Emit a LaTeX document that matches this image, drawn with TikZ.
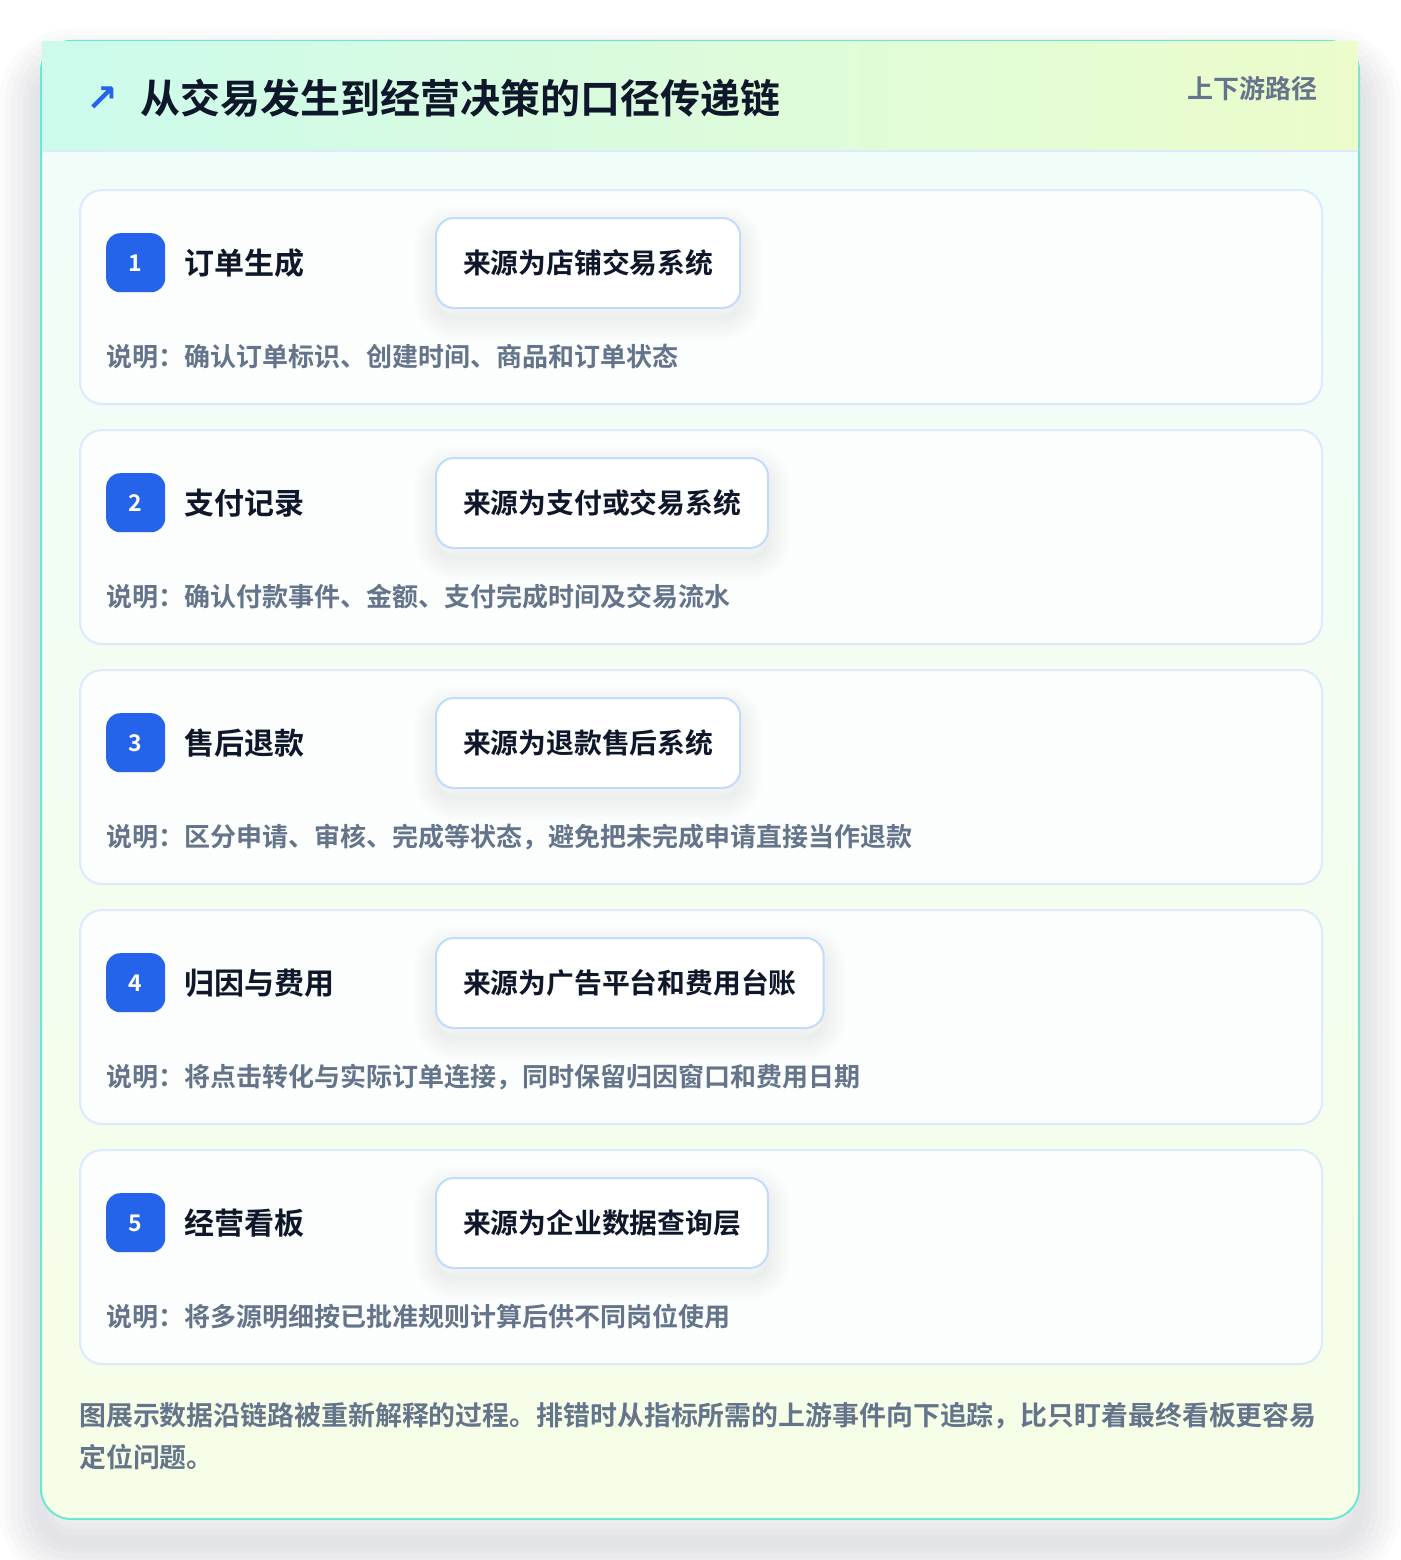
\documentclass[tikz,border=0pt]{standalone}
\usepackage{fontspec}
\setmainfont{Noto Sans CJK SC}[BoldFont={Noto Sans CJK SC Bold}]
\newfontfamily\arrowfont{DejaVu Sans}
\definecolor{hdrL}{HTML}{CCFBEC}
\definecolor{hdrR}{HTML}{ECFCCB}
\definecolor{bodyT}{HTML}{F0FDF9}
\definecolor{bodyB}{HTML}{F7FEE7}
\definecolor{tealB}{HTML}{6EE7D2}
\definecolor{sepB}{HTML}{DBEAFE}
\definecolor{cardB}{HTML}{DBEAFE}
\definecolor{cardF}{HTML}{FCFEFD}
\definecolor{srcB}{HTML}{BFDBFE}
\definecolor{badgeC}{HTML}{2563EB}
\definecolor{darkC}{HTML}{0F172A}
\definecolor{slateC}{HTML}{64748B}
\definecolor{shadowC}{HTML}{1E293B}
\begin{document}
\begin{tikzpicture}[x=1pt,y=-1pt,
  shadowring/.style={preaction={draw=shadowC, draw opacity=0.009, line width=#1, fill=none,
    transform canvas={yshift=-10pt}}},
  card/.style={draw=cardB, line width=2pt, fill=cardF,
    rounded corners=22pt, minimum width=1242pt, minimum height=214pt, inner sep=0pt},
  badge/.style={fill=badgeC, rounded corners=14pt, minimum size=59pt, inner sep=0pt, text=white,
    font=\bfseries\fontsize{23}{23}\selectfont, text height=16.8pt, text depth=0pt},
  steptitle/.style={inner sep=0pt, text=darkC, font=\bfseries\fontsize{30}{30}\selectfont},
  srcbox/.style={shadowring=44pt, shadowring=38pt, shadowring=32pt, shadowring=26pt, shadowring=20pt,
    shadowring=14pt, shadowring=8pt, shadowring=3pt,
    draw=srcB, line width=2pt, fill=white, rounded corners=18pt, minimum height=90pt,
    inner xsep=27pt, inner ysep=0pt, text=darkC, font=\bfseries\fontsize{27.8}{27.8}\selectfont,
    text height=24.5pt, text depth=3.3pt},
  desc/.style={inner sep=0pt, text=slateC, font=\bfseries\fontsize{26}{26}\selectfont},
]
\useasboundingbox (0,0) rectangle (1400,1560);
\fill[white] (0,0) rectangle (1400,1560);
% outer card shadow
\foreach \w in {84,72,60,48,36,24,12}
  \draw[shadowC, draw opacity=0.014, line width=\w pt, rounded corners=30pt] (41,71) rectangle (1359,1541);
\fill[white, rounded corners=30pt] (41,41) rectangle (1359,1519);
\begin{scope}
  \clip[rounded corners=30pt] (41,41) rectangle (1359,1519);
  \shade[top color=bodyT, bottom color=bodyB] (41,151) rectangle (1359,1519);
\end{scope}
\draw[tealB, line width=2pt, rounded corners=30pt] (41,41) rectangle (1359,1519);
\shade[left color=hdrL, right color=hdrR] (42,42) rectangle (1358,151);
\draw[sepB, line width=2pt] (42,151) -- (1358,151);
% header
\node[inner sep=0pt, text=badgeC, font=\arrowfont\bfseries\fontsize{38}{38}\selectfont] (arrow) at (102,99) {↗};
\node[anchor=base west, inner sep=0pt, text=darkC, font=\bfseries\fontsize{40}{40}\selectfont] (title) at (140,113.2) {从交易发生到经营决策的口径传递链};
\node[anchor=base east, inner sep=0pt, text=slateC, font=\bfseries\fontsize{26}{26}\selectfont] (tag) at (1318,98.9) {上下游路径};
% steps
\foreach \i/\t/\s/\d in {
  1/订单生成/来源为店铺交易系统/说明：确认订单标识、创建时间、商品和订单状态,
  2/支付记录/来源为支付或交易系统/说明：确认付款事件、金额、支付完成时间及交易流水,
  3/售后退款/来源为退款售后系统/说明：区分申请、审核、完成等状态，避免把未完成申请直接当作退款,
  4/归因与费用/来源为广告平台和费用台账/说明：将点击转化与实际订单连接，同时保留归因窗口和费用日期,
  5/经营看板/来源为企业数据查询层/说明：将多源明细按已批准规则计算后供不同岗位使用}{
  \pgfmathsetmacro\ytop{189+240*(\i-1)}
  \node[card, anchor=north west] (card\i) at (79,\ytop) {};
  \node[badge, anchor=north west] (badge\i) at (106,\ytop+44) {\i};
  \node[steptitle, anchor=base west] (title\i) at (184,\ytop+74+11.4) {\t};
  \node[srcbox, anchor=north west] (src\i) at (435,\ytop+28) {\s};
  \node[desc, anchor=base west] (desc\i) at (106,\ytop+168+9.9) {\d};
}
% footer
\node[anchor=north west, inner sep=0pt, text width=1280pt, align=left, text=slateC,
  font=\bfseries\fontsize{26.9}{42}\selectfont] (note) at (79,1402)
  {图展示数据沿链路被重新解释的过程。排错时从指标所需的上游事件向下追踪，比只盯着最终看板更容易\\定位问题。};
\end{tikzpicture}
\end{document}
